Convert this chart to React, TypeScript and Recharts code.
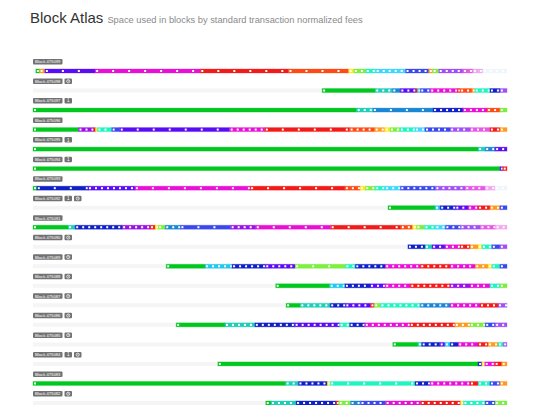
import { Bar, BarChart, LabelList, XAxis, YAxis } from 'recharts';

// block heights, top to bottom
const blockHeights = [
  475099, 475098, 475097, 475096, 475095, 475094, 475093, 475092, 475091,
  475090, 475089, 475088, 475087, 475086, 475085, 475084, 475083, 475082,
];
// "1" badge and pending (clock) badge per block
const flagged = [0, 0, 1, 0, 1, 1, 0, 1, 0, 0, 0, 0, 0, 0, 0, 1, 0, 0];
const pending = [0, 1, 0, 0, 0, 0, 0, 1, 0, 1, 1, 1, 1, 1, 1, 1, 0, 1];

// unused block space (kvB) before the filled part
const unusedSpace = [6, 610, 0, 0, 0, 0, 0, 749, 0, 791, 281, 512, 534, 302, 759, 390, 0, 491];

// normalized fee (sat/vB) of each run, left to right
const segmentFees: number[][] = [
  [1, 30, 8, 12, 20, 25, 40, 50, 60, 70, 80, 30, 50, 100, 125, 150, 300],
  [1, 3, 5, 8, 20, 4, 80, 12, 20, 25, 30, 60, 6, 100],
  [1, 3, 5, 6, 12, 25, 50],
  [1, 10, 20, 40, 60, 80, 8, 12, 20, 25, 30, 40, 50, 60, 70, 80, 100, 125, 20, 30],
  [1, 3, 5, 8],
  [1, 8, 20],
  [1, 6, 8, 12, 20, 25, 40, 50, 60, 70, 80, 100, 125, 150, 300],
  [1, 4, 6, 8, 12, 20, 30, 80],
  [1, 3, 6, 10, 20, 40, 50, 5, 80, 10, 12, 20, 25, 40, 50, 60, 70, 80, 100, 125, 150],
  [6, 3, 8, 12, 20, 30, 40, 60, 80, 100],
  [1, 4, 6, 8, 50, 60, 6, 12, 20, 12, 30, 40, 60, 80],
  [1, 4, 6, 8, 12, 20, 10, 12, 60, 50],
  [1, 3, 6, 8, 20, 50, 60, 5, 12, 20, 100],
  [1, 3, 6, 8, 60, 6, 12, 20, 30, 50, 80, 100],
  [1, 3, 6, 8, 4, 6, 12, 20, 30, 60, 100],
  [1, 6, 40, 12, 20, 30],
  [1, 3, 6, 40, 60, 6, 12, 20, 60, 80, 30],
  [1, 3, 6, 20, 50, 5, 80, 12, 20, 40, 60, 80, 50],
];

// space (kvB) of each run
const segmentSizes: number[][] = [
  [8, 11, 106, 222, 186, 127, 11, 25, 21, 63, 49, 8, 13, 51, 21, 21, 51],
  [112, 36, 17, 32, 4, 6, 21, 57, 6, 25, 6, 32, 21, 15],
  [683, 34, 127, 63, 51, 27, 15],
  [96, 32, 4, 4, 30, 17, 232, 74, 179, 53, 21, 11, 21, 32, 21, 53, 42, 42, 21, 15],
  [939, 15, 21, 25],
  [985, 6, 9],
  [8, 108, 99, 243, 200, 32, 11, 21, 21, 32, 74, 63, 42, 21, 25],
  [99, 11, 32, 27, 21, 25, 21, 15],
  [74, 15, 99, 59, 11, 6, 15, 32, 106, 53, 158, 148, 25, 8, 17, 23, 21, 32, 42, 32, 24],
  [36, 15, 27, 32, 21, 17, 8, 21, 17, 15],
  [82, 57, 70, 63, 106, 21, 63, 74, 63, 53, 27, 8, 17, 15],
  [114, 32, 53, 32, 53, 84, 42, 42, 21, 15],
  [30, 63, 32, 53, 8, 13, 84, 63, 63, 38, 19],
  [103, 63, 84, 95, 21, 32, 95, 95, 32, 32, 21, 25],
  [53, 8, 38, 11, 11, 17, 42, 21, 21, 11, 8],
  [549, 8, 6, 21, 15, 11],
  [533, 27, 61, 6, 179, 32, 84, 17, 25, 21, 15],
  [11, 53, 84, 6, 25, 21, 53, 74, 84, 6, 46, 21, 25],
];

const feeTiers = [1, 2, 3, 4, 5, 6, 8, 10, 12, 15, 20, 25, 30, 40, 50, 60, 70, 80, 100, 125, 150, 200, 300];
const tierColors = [
  '#00c81e', '#00d98c', '#1ccfb8', '#22c8f0', '#1a86d6', '#1020c8', '#5a0cf5', '#9a10e8',
  '#e810d8', '#ff1480', '#f41a1a', '#ff4a14', '#ff9a1e', '#ffe81e', '#7cf03c', '#1ef5c0',
  '#3cd8ff', '#3a48f0', '#a050f5', '#e858e8', '#f2a8f0', '#d6eaff', '#eef6fc',
];

const feeColor = (fee: number) => {
  let idx = 0;
  feeTiers.forEach((t, i) => {
    if (fee >= t) idx = i;
  });
  return tierColors[idx];
};

const maxSegments = Math.max(...segmentSizes.map((s) => s.length));
const segKeys = Array.from({ length: maxSegments }, (_, k) => `s${k}`);

const data = blockHeights.map((h, i) => {
  const row: Record<string, number | string> = { block: `Block ${h}`, row: i, empty: unusedSpace[i] };
  segmentSizes[i].forEach((s, k) => {
    row[`s${k}`] = s;
  });
  return row;
});

const LEFT = 33;
const FONT = "'Liberation Sans', Arial, sans-serif";

function segmentShape(k: number) {
  return (props: any) => {
    const { x, y, width, height, payload } = props;
    if (!width || width <= 0 || payload == null) return <g />;
    const fee = segmentFees[payload.row][k];
    const color = feeColor(fee);
    const step = fee <= 1 ? 1e9 : width > 50 ? 16 : 6;
    const dots = [];
    for (let dx = 1; dx < width - 1.5; dx += step) {
      dots.push(
        <rect key={dx} x={x + dx} y={y + height / 2 - 1} width={2} height={2} fill="#ffffff" />,
      );
    }
    return (
      <g>
        <rect
          x={x}
          y={y}
          width={width}
          height={height}
          fill={color}
          stroke={color}
          strokeOpacity={0.3}
          strokeWidth={1}
        />
        {dots}
      </g>
    );
  };
}

// badge row above each block's bar
const BlockLabel = (props: any) => {
  const { y, height, value } = props;
  const i = blockHeights.findIndex((h) => `Block ${h}` === value);
  if (i < 0) return null;
  const top = y + height / 2 - 12;
  const extras: string[] = [];
  if (flagged[i]) extras.push('1');
  if (pending[i]) extras.push('clock');
  return (
    <g fontFamily={FONT}>
      <rect x={LEFT} y={top} width={29.5} height={5.5} rx={1} fill="#727272" />
      <text x={LEFT + 2} y={top + 4.3} fontSize={4.2} fill="#ffffff">
        {value}
      </text>
      {extras.map((e, j) => {
        const bx = LEFT + 31.5 + j * 9.5;
        return (
          <g key={e}>
            <rect x={bx} y={top} width={7.5} height={5.5} rx={1} fill="#727272" />
            {e === '1' ? (
              <text x={bx + 3.75} y={top + 4.4} fontSize={4.5} fill="#ffffff" textAnchor="middle">
                1
              </text>
            ) : (
              <g>
                <circle cx={bx + 3.75} cy={top + 2.75} r={1.6} fill="none" stroke="#ffffff" strokeWidth={0.7} />
                <path d={`M${bx + 3.75} ${top + 1.6} V${top + 2.85} H${bx + 4.7}`} stroke="#ffffff" strokeWidth={0.5} fill="none" />
              </g>
            )}
          </g>
        );
      })}
    </g>
  );
};

export default function App() {
  return (
    <div
      style={{
        position: 'fixed',
        left: 0,
        top: 0,
        width: 540,
        height: 405,
        overflow: 'hidden',
        background: '#ffffff',
      }}
    >
      <div
        style={{
          position: 'absolute',
          left: 30,
          top: 10,
          fontFamily: FONT,
          lineHeight: '15px',
          whiteSpace: 'nowrap',
        }}
      >
        <span style={{ fontSize: 15, color: '#333333' }}>Block Atlas</span>
        <span style={{ fontSize: 9.3, color: '#8a8a8a', marginLeft: 4 }}>
          Space used in blocks by standard transaction normalized fees
        </span>
      </div>
      <div style={{ position: 'absolute', left: 0, top: 0 }}>
        <BarChart
          width={540}
          height={420}
          data={data}
          layout="vertical"
          barSize={4}
          margin={{ top: 61, right: 33, bottom: 7.5, left: LEFT }}
        >
          <XAxis type="number" domain={[0, 1000]} hide />
          <YAxis type="category" dataKey="block" hide />
          <Bar
            dataKey="empty"
            stackId="b"
            fill="transparent"
            background={{ fill: '#f5f5f5' }}
            isAnimationActive={false}
          />
          {segKeys.map((key, k) => (
            <Bar
              key={key}
              dataKey={key}
              stackId="b"
              shape={segmentShape(k)}
              isAnimationActive={false}
            >
              {k === 0 ? <LabelList dataKey="block" content={<BlockLabel />} /> : null}
            </Bar>
          ))}
        </BarChart>
      </div>
    </div>
  );
}
